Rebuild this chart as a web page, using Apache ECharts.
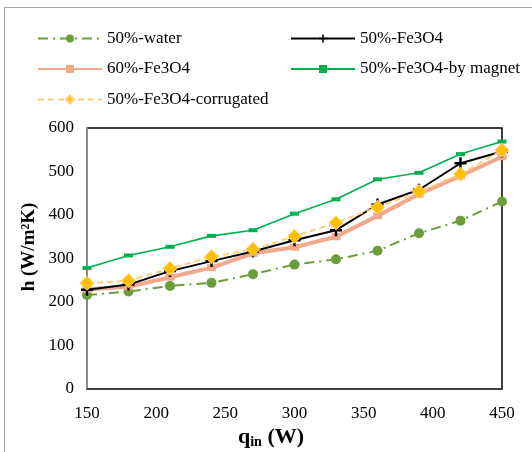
<!DOCTYPE html>
<html>
<head>
<meta charset="utf-8">
<script src="https://cdn.jsdelivr.net/npm/echarts@6/dist/echarts.min.js"></script>
<style>
  html, body { margin: 0; padding: 0; background: #fff; }
  #chart { width: 532px; height: 452px; }
</style>
</head>
<body>
<div id="chart"></div>
<script>
// heat input q_in (W)
const qIn = [150, 180, 210, 240, 270, 300, 330, 360, 390, 420, 450]
// heat transfer coefficient h (W/m2K)
const water50 = [216, 224, 237, 244, 264, 286, 298, 318, 358, 387, 431]
const fe3o450 = [228, 240, 271, 294, 316, 342, 365, 424, 458, 519, 546]
const fe3o460 = [229, 235, 257, 279, 312, 326, 350, 398, 448, 490, 534]
const magnet50 = [278, 307, 327, 352, 365, 403, 436, 482, 497, 540, 569]
const corrugated50 = [243, 249, 277, 304, 321, 351, 382, 418, 454, 494, 549]

const yTicks = { min: 0, max: 600, interval: 100 }
const xTicks = { min: 150, max: 450, interval: 50 }

const pair = arr => qIn.map((q, i) => [q, arr[i]])

const serif = '"Liberation Serif", "Times New Roman", serif'
const plusPath = 'path://M4,0h2v4h4v2h-4v4h-2v-4h-4v-2h4z'

const chart = echarts.init(document.getElementById('chart'))

const legendText = { fontFamily: serif, fontSize: 17, color: '#000' }

const option = {
    animation: false,
    backgroundColor: '#fff',
    textStyle: { fontFamily: serif },
    graphic: [
        {
            type: 'rect',
            shape: { x: 4.5, y: 7.5, width: 540, height: 450 },
            style: { fill: 'none', stroke: '#a6a6a6', lineWidth: 1 },
            silent: true
        },
        {
            // y axis title
            type: 'text', x: 29, y: 247, rotation: Math.PI / 2,
            style: {
                text: 'h (W/m²K)', align: 'center', verticalAlign: 'middle',
                font: 'bold 19px ' + serif, fill: '#000'
            },
            silent: true
        },
        {
            // x axis title
            type: 'text', x: 271, y: 437,
            style: {
                text: '{a|q}{b|in}{a| (W)}', align: 'center', verticalAlign: 'middle',
                rich: {
                    a: { fontFamily: serif, fontSize: 22, fontWeight: 'bold', fill: '#000' },
                    b: { fontFamily: serif, fontSize: 14, fontWeight: 'bold', fill: '#000', padding: [10, 0, 0, 0] }
                }
            },
            silent: true
        }
    ],
    legend: [
        {
            left: 37, top: 30, orient: 'vertical', itemGap: 13.5, padding: 0,
            itemWidth: 64, itemHeight: 10,
            textStyle: legendText,
            data: ['50%-water', '60%-Fe3O4', '50%-Fe3O4-corrugated']
        },
        {
            left: 290, top: 30, orient: 'vertical', itemGap: 13.5, padding: 0,
            itemWidth: 64, itemHeight: 10,
            textStyle: legendText,
            data: ['50%-Fe3O4', '50%-Fe3O4-by magnet']
        }
    ],
    grid: {
        left: 87, right: 30, top: 128, bottom: 63,
        show: true, borderColor: '#000', borderWidth: 1.5
    },
    xAxis: {
        type: 'value',
        min: xTicks.min, max: xTicks.max, interval: xTicks.interval,
        axisLine: { show: true, lineStyle: { color: '#404040', width: 1.5 } },
        axisTick: { show: false },
        splitLine: { show: false },
        axisLabel: { fontFamily: serif, fontSize: 17, color: '#000', margin: 16 }
    },
    yAxis: {
        type: 'value',
        min: yTicks.min, max: yTicks.max, interval: yTicks.interval,
        axisLine: { show: true, lineStyle: { color: '#898989', width: 2 } },
        axisTick: { show: false },
        splitLine: { show: false },
        axisLabel: { fontFamily: serif, fontSize: 17, color: '#000', margin: 13 }
    },
    series: [
        {
            name: '50%-water', type: 'line', data: pair(water50), z: 2,
            symbol: 'circle', symbolSize: 10,
            itemStyle: { color: '#6b9e3a' },
            lineStyle: { color: '#6b9e3a', width: 2, type: [10, 5, 2, 5] }
        },
        {
            name: '60%-Fe3O4', type: 'line', data: pair(fe3o460), z: 3,
            symbol: 'rect', symbolSize: [9, 7],
            itemStyle: { color: '#f1a98e' },
            lineStyle: { color: '#f1a98e', width: 4 }
        },
        {
            name: '50%-Fe3O4', type: 'line', data: pair(fe3o450), z: 4,
            symbol: plusPath, symbolSize: 12,
            itemStyle: { color: '#000' },
            lineStyle: { color: '#000', width: 2 }
        },
        {
            name: '50%-Fe3O4-by magnet', type: 'line', data: pair(magnet50), z: 4,
            symbol: 'rect', symbolSize: [9, 4],
            itemStyle: { color: '#00b050' },
            lineStyle: { color: '#00b050', width: 1.6 }
        },
        {
            name: '50%-Fe3O4-corrugated', type: 'line', data: pair(corrugated50), z: 5,
            symbol: 'diamond', symbolSize: 14,
            itemStyle: { color: '#ffc000', borderColor: '#ffd27a', borderWidth: 1 },
            lineStyle: { color: '#ffcf7a', width: 2, type: [6, 4] }
        }
    ]
}

chart.setOption(option)
</script>
</body>
</html>
